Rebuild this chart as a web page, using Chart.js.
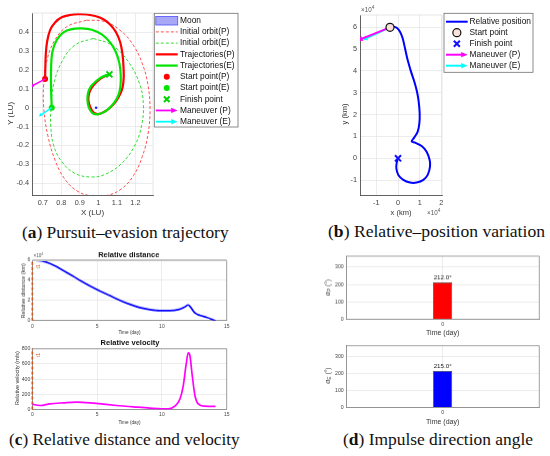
<!DOCTYPE html>
<html><head><meta charset="utf-8">
<script src="https://cdn.jsdelivr.net/npm/chart.js@4.4.1/dist/chart.umd.min.js"></script>
<style>
html,body{margin:0;padding:0;background:#fff;}
body{width:550px;height:456px;position:relative;overflow:hidden;}
canvas{position:absolute;}
.cap{position:absolute;font-family:"Liberation Serif","Times New Roman",serif;font-size:17px;line-height:17px;color:#111;white-space:nowrap;transform-origin:0 0;}
</style></head><body>
<canvas id="cA"></canvas>
<canvas id="cB"></canvas>
<canvas id="cC1"></canvas>
<canvas id="cC2"></canvas>
<canvas id="cD1"></canvas>
<canvas id="cD2"></canvas>
<div class="cap" id="capA" data-w="206.6" style="left:21.7px;top:223.8px">(<b>a</b>) Pursuit–evasion trajectory</div>
<div class="cap" id="capB" data-w="217" style="left:328px;top:223.3px">(<b>b</b>) Relative–position variation</div>
<div class="cap" id="capC" data-w="230.7" style="left:9.3px;top:430.8px">(<b>c</b>) Relative distance and velocity</div>
<div class="cap" id="capD" data-w="190" style="left:343px;top:430.8px">(<b>d</b>) Impulse direction angle</div>
<script>
// ================= DATA =================
// (a) Pursuit–evasion trajectory, LU
const moonX = [0.988], moonY = [0];
const orbitPX = [0.937,1.036,1.126,1.19,1.237,1.268,1.279,1.268,1.237,1.19,1.126,1.05,0.965,0.89,0.82,0.767,0.728,0.706,0.705,0.72,0.76,0.83,0.937];
const orbitPY = [0.465,0.457,0.404,0.33,0.235,0.12,-0.01,-0.14,-0.26,-0.36,-0.43,-0.465,-0.468,-0.445,-0.38,-0.28,-0.15,-0.01,0.12,0.24,0.35,0.43,0.465];
const orbitEX = [0.973,1.072,1.162,1.225,1.243,1.234,1.198,1.126,1.036,0.964,0.874,0.803,0.758,0.743,0.745,0.758,0.803,0.874,0.973];
const orbitEY = [0.368,0.333,0.244,0.12,0.014,-0.092,-0.198,-0.296,-0.354,-0.368,-0.349,-0.287,-0.198,-0.092,0,0.12,0.244,0.333,0.368];
const trajPX = [0.7126,0.7162,0.7234,0.7396,0.7665,0.8025,0.8475,0.8924,0.9374,0.9824,1.0273,1.0633,1.0939,1.1173,1.1299,1.1353,1.1371,1.1317,1.1173,1.0939,1.0633,1.0327,1.0004,0.9734,0.9554,0.9464,0.95,0.9644,0.9878,1.0147,1.0417,1.0597];
const trajPY = [0.152,0.2796,0.3504,0.4124,0.4530,0.4800,0.4925,0.4970,0.4950,0.4870,0.4700,0.4420,0.4035,0.3504,0.2885,0.2265,0.1646,0.1115,0.0708,0.0319,0,-0.0212,-0.0336,-0.0248,0.0053,0.0407,0.0761,0.1062,0.1345,0.1558,0.1699,0.177];
const trajEX = [0.7486,0.745,0.745,0.7522,0.7755,0.8115,0.8565,0.9104,0.9644,1.0183,1.0633,1.0939,1.1137,1.1209,1.1191,1.1083,1.0867,1.0579,1.0273,0.9968,0.968,0.9482,0.941,0.9446,0.959,0.9842,1.013,1.0399,1.0597];
const trajEY = [0,0.1027,0.2088,0.2973,0.3593,0.4,0.4177,0.4212,0.4142,0.3894,0.3469,0.2973,0.2354,0.1735,0.1115,0.0673,0.0283,-0.0035,-0.0248,-0.0354,-0.0283,0.0018,0.0407,0.0796,0.1115,0.1381,0.1593,0.1717,0.177];
const startPX = [0.7126], startPY = [0.152];
const startEX = [0.7486], startEY = [0];
const finishX = [1.0597], finishY = [0.177];
const manPX = [0.7126,0.643], manPY = [0.152,0.116];
const manEX = [0.7486,0.689], manEY = [0,-0.039];
const ticksAX = [0.7,0.8,0.9,1,1.1,1.2];
const ticksAY = [-0.4,-0.3,-0.2,-0.1,0,0.1,0.2,0.3,0.4];

// (b) Relative position, x10^4 km
const relX = [-0.369,-0.215,-0.06,0.092,0.215,0.323,0.446,0.6,0.754,0.877,0.954,1.0,0.985,0.908,0.754,0.63,0.785,1.09,1.32,1.46,1.477,1.37,1.17,0.86,0.55,0.246,0.015,-0.077,-0.06,0];
const relY = [6.0,6.03,5.98,5.8,5.5,5.04,4.5,3.97,3.51,3.05,2.6,2.06,1.6,1.22,0.96,0.78,0.72,0.565,0.305,-0.076,-0.38,-0.76,-0.99,-1.11,-1.11,-0.99,-0.76,-0.46,-0.2,0];
const relStartX = [-0.369], relStartY = [6.0];
const relFinishX = [0], relFinishY = [0];
const relManPX = [-0.369,-1.72], relManPY = [6.0,5.46];
const relManEX = [-0.369,-1.5], relManEY = [6.0,5.49];
const ticksBX = [-1,0,1,2];
const ticksBY = [-1,0,1,2,3,4,5,6];

// (c) Relative distance (x10^4 km) and velocity (m/s) vs time (day)
const distT = [0,0.72,1.36,2.13,2.9,3.68,4.45,5.22,6.0,6.76,7.53,8.3,9.07,9.85,10.6,11.26,11.77,12.03,12.2,12.55,12.93,13.44,14.14];
const distV = [6.0,5.93,5.67,5.17,4.6,4.0,3.45,2.95,2.48,2.02,1.62,1.29,1.09,0.99,0.99,1.09,1.36,1.56,1.36,0.76,0.53,0.33,0.0];
const velT = [0,0.2,0.6,1.36,2.4,3.4,4.45,5.48,6.5,7.8,9.07,9.97,10.5,11.0,11.4,11.65,11.86,12.03,12.16,12.34,12.55,12.8,13.32,14.14];
const velV = [75,62,53,75,88,97,88,70,53,35,18,9,9,44,141,316,580,747,712,448,185,75,44,40];
const eventT = [0];
const eventLabel = ['t1'];
const ticksCX = [0,5,10,15];
const ticksC1Y = [0,2,4,6];
const ticksC2Y = [0,200,400,600,800];

// (d) Impulse direction angle (deg)
const impulseTimes = ['0'];
const alphaP = [212.0];
const alphaE = [215.0];
const ticksDY = [0,100,200,300];

// ================= HELPERS =================
const SANS = '"Liberation Sans", Arial, Helvetica, sans-serif';
const zip = (xs, ys) => xs.map((x, i) => ({x: x, y: ys[i]}));
const fmt = v => String(Math.round(v * 1000) / 1000);

function arrowAngle(c) {
  const d = c.dataset.data, i = c.dataIndex;
  if (i === 0) return 0;
  const sx = c.chart.scales.x, sy = c.chart.scales.y;
  const dx = sx.getPixelForValue(d[i].x) - sx.getPixelForValue(d[i - 1].x);
  const dy = sy.getPixelForValue(d[i].y) - sy.getPixelForValue(d[i - 1].y);
  return Math.atan2(dx, -dy) * 180 / Math.PI;
}

function richDraw(ctx, t) {
  ctx.save();
  ctx.translate(t.x, t.y);
  if (t.rot) ctx.rotate(t.rot * Math.PI / 180);
  ctx.fillStyle = t.color || '#333';
  ctx.textBaseline = 'middle';
  const parts = t.parts || [{t: t.t}];
  const fonts = parts.map(p => ((p.bold !== undefined ? p.bold : t.bold) ? 'bold ' : '') + (p.size || t.size) + 'px ' + (p.family || SANS));
  let total = 0;
  parts.forEach((p, i) => { ctx.font = fonts[i]; total += ctx.measureText(p.t).width; });
  let cx = t.align === 'center' ? -total / 2 : (t.align === 'right' ? -total : 0);
  ctx.textAlign = 'left';
  parts.forEach((p, i) => { ctx.font = fonts[i]; ctx.fillText(p.t, cx, p.dy || 0); cx += ctx.measureText(p.t).width; });
  ctx.restore();
}

function drawSample(ctx, it, x0, x1, cy) {
  const xm = (x0 + x1) / 2;
  ctx.save();
  if (it.kind === 'patch') {
    ctx.fillStyle = it.fill; ctx.fillRect(x0, cy - 4.3, x1 - x0, 8.6);
    ctx.strokeStyle = it.stroke; ctx.lineWidth = 0.8; ctx.strokeRect(x0, cy - 4.3, x1 - x0, 8.6);
  } else if (it.kind === 'line') {
    ctx.strokeStyle = it.color; ctx.lineWidth = it.width; ctx.setLineDash(it.dash || []);
    ctx.beginPath(); ctx.moveTo(x0, cy); ctx.lineTo(x1, cy); ctx.stroke();
  } else if (it.kind === 'circle') {
    ctx.beginPath(); ctx.arc(xm, cy, it.r, 0, 2 * Math.PI);
    ctx.fillStyle = it.fill; ctx.fill();
    if (it.stroke) { ctx.strokeStyle = it.stroke; ctx.lineWidth = it.lw || 1; ctx.stroke(); }
  } else if (it.kind === 'cross') {
    const r = it.r;
    ctx.strokeStyle = it.color; ctx.lineWidth = it.lw;
    ctx.beginPath(); ctx.moveTo(xm - r, cy - r); ctx.lineTo(xm + r, cy + r);
    ctx.moveTo(xm - r, cy + r); ctx.lineTo(xm + r, cy - r); ctx.stroke();
  } else if (it.kind === 'arrow') {
    ctx.strokeStyle = it.color; ctx.lineWidth = it.width;
    ctx.beginPath(); ctx.moveTo(x0, cy); ctx.lineTo(x1 - 5, cy); ctx.stroke();
    ctx.fillStyle = it.color; ctx.beginPath();
    ctx.moveTo(x1, cy); ctx.lineTo(x1 - 6.5, cy - 2.6); ctx.lineTo(x1 - 6.5, cy + 2.6); ctx.closePath(); ctx.fill();
  }
  ctx.restore();
}

const decoPlugin = {
  id: 'deco',
  afterDatasetsDraw(chart, args, o) {
    const ctx = chart.ctx, a = chart.chartArea;
    ctx.save();
    if (o.box) {
      ctx.strokeStyle = o.box.color; ctx.lineWidth = o.box.width || 0.8;
      ctx.beginPath();
      if (o.box.sides.indexOf('top') >= 0) { ctx.moveTo(a.left, a.top); ctx.lineTo(a.right, a.top); }
      if (o.box.sides.indexOf('right') >= 0) { ctx.moveTo(a.right, a.top); ctx.lineTo(a.right, a.bottom); }
      ctx.stroke();
    }
    if (o.topLine) {
      ctx.strokeStyle = o.topLine.color; ctx.lineWidth = o.topLine.width;
      ctx.beginPath(); ctx.moveTo(a.left, a.top); ctx.lineTo(a.right, a.top); ctx.stroke();
    }
    if (o.barLabels) {
      chart.data.datasets.forEach((ds, di) => {
        chart.getDatasetMeta(di).data.forEach((el, i) => {
          richDraw(ctx, {t: ds.data[i].toFixed(1) + '°', x: el.x, y: el.y - 4.3, size: 6.2, align: 'center', color: '#222'});
        });
      });
    }
    if (o.eventLabels) {
      const sx = chart.scales.x;
      o.eventLabels.forEach(ev => {
        richDraw(ctx, {t: ev.t, x: sx.getPixelForValue(ev.x) + 6, y: a.top + ev.dy, rot: -90, size: 5.2, align: 'center', color: '#d95319'});
      });
    }
    ctx.restore();
  },
  afterDraw(chart, args, o) {
    const ctx = chart.ctx, ox = o.ox || 0, oy = o.oy || 0;
    (o.texts || []).forEach(t => richDraw(ctx, Object.assign({}, t, {x: t.x - ox, y: t.y - oy})));
    const L = o.legend;
    if (L) {
      ctx.save();
      ctx.fillStyle = '#fff';
      ctx.fillRect(L.x - ox, L.y - oy, L.w, L.h);
      ctx.strokeStyle = '#6e6e6e'; ctx.lineWidth = 0.8;
      ctx.strokeRect(L.x - ox, L.y - oy, L.w, L.h);
      L.items.forEach((it, i) => {
        const cy = L.firstY + i * L.rowH - oy;
        drawSample(ctx, it, L.s0 - ox, L.s1 - ox, cy);
        richDraw(ctx, {t: it.label, x: L.tx - ox, y: cy, size: L.size, color: '#111', align: 'left'});
      });
      ctx.restore();
    }
  }
};
Chart.register(decoPlugin);

function axis(min, max, ticks, size, pad, opts) {
  opts = opts || {};
  return Object.assign({
    type: 'linear', min: min, max: max,
    afterBuildTicks: s => { s.ticks = ticks.map(v => ({value: v})); },
    ticks: {autoSkip: false, maxRotation: 0, font: {family: SANS, size: size}, color: '#454545', padding: pad, callback: v => fmt(v)},
    grid: {color: opts.gridColor || '#e4e4e4', lineWidth: 0.7, drawTicks: false},
    border: {display: true, color: opts.borderColor || '#505050', width: 0.9}
  }, opts.extra || {});
}

function mk(id, box, area, cfg) {
  const cv = document.getElementById(id);
  cv.width = box.w; cv.height = box.h;
  cv.style.left = box.x + 'px'; cv.style.top = box.y + 'px';
  cv.style.width = box.w + 'px'; cv.style.height = box.h + 'px';
  const o = cfg.options;
  o.responsive = false; o.animation = false; o.events = [];
  o.layout = {padding: {left: 0, bottom: 0, top: area.t - box.y, right: box.x + box.w - area.r}};
  o.plugins = o.plugins || {};
  o.plugins.legend = {display: false};
  o.plugins.tooltip = {enabled: false};
  o.plugins.deco = Object.assign({ox: box.x, oy: box.y}, o.plugins.deco || {});
  o.scales.x.afterFit = s => { s.height = box.y + box.h - area.b; };
  o.scales.y.afterFit = s => { s.width = area.l - box.x; };
  return new Chart(cv, cfg);
}

const RED = '#ff0000', GREEN = '#00e400', MAG = '#ff00ff', CYAN = '#00ffff', BLUE = '#0000ff';

// ================= (a) =================
mk('cA', {x: 0, y: 0, w: 250, h: 218}, {l: 32, t: 13, r: 153, b: 195}, {
  type: 'scatter',
  data: {datasets: [
    {label: 'Moon', data: zip(moonX, moonY), pointStyle: 'circle', pointRadius: 1.3, pointBackgroundColor: '#2020ff', pointBorderWidth: 0, order: 10},
    {label: 'Initial orbit(P)', data: zip(orbitPX, orbitPY), showLine: true, borderColor: '#ff5050', borderWidth: 1, borderDash: [3, 2], pointRadius: 0, tension: 0.4, order: 9},
    {label: 'Initial orbit(E)', data: zip(orbitEX, orbitEY), showLine: true, borderColor: '#33dd33', borderWidth: 1, borderDash: [3, 2], pointRadius: 0, tension: 0.4, order: 8},
    {label: 'Trajectories(P)', data: zip(trajPX, trajPY), showLine: true, borderColor: RED, borderWidth: 2.2, pointRadius: 0, tension: 0.35, order: 7},
    {label: 'Trajectories(E)', data: zip(trajEX, trajEY), showLine: true, borderColor: GREEN, borderWidth: 2.2, pointRadius: 0, tension: 0.35, order: 6},
    {label: 'Start point(P)', data: zip(startPX, startPY), pointStyle: 'circle', pointRadius: 3, pointBackgroundColor: RED, pointBorderWidth: 0, order: 5},
    {label: 'Start point(E)', data: zip(startEX, startEY), pointStyle: 'circle', pointRadius: 3, pointBackgroundColor: GREEN, pointBorderWidth: 0, order: 4},
    {label: 'Finish point', data: zip(finishX, finishY), pointStyle: 'crossRot', pointRadius: 4.2, pointBorderColor: '#00d400', pointBorderWidth: 2, order: 3},
    {label: 'Maneuver (P)', data: zip(manPX, manPY), showLine: true, borderColor: MAG, borderWidth: 1.5, pointRadius: [0, 2.2], pointStyle: 'triangle', pointBackgroundColor: MAG, pointBorderWidth: 0, pointRotation: arrowAngle, order: 2},
    {label: 'Maneuver (E)', data: zip(manEX, manEY), showLine: true, borderColor: CYAN, borderWidth: 1.5, pointRadius: [0, 2.2], pointStyle: 'triangle', pointBackgroundColor: CYAN, pointBorderWidth: 0, pointRotation: arrowAngle, order: 1}
  ]},
  options: {
    scales: {
      x: axis(0.642, 1.295, ticksAX, 7.3, 3.5, {extra: {title: {display: true, text: 'X (LU)', font: {family: SANS, size: 8}, color: '#333', padding: 0}}}),
      y: axis(-0.4636, 0.503, ticksAY, 7.3, 3)
    },
    plugins: {deco: {
      box: {color: '#e0e0e0', sides: ['top', 'right']},
      texts: [{t: 'Y (LU)', x: 10.3, y: 113.5, rot: -90, size: 8, align: 'center', color: '#333'}],
      legend: {x: 154.3, y: 13.3, w: 83.7, h: 113.7, firstY: 20.7, rowH: 11.22, s0: 155.8, s1: 177.7, tx: 180, size: 8.4, items: [
        {label: 'Moon', kind: 'patch', fill: '#a8a8f6', stroke: '#5050ff'},
        {label: 'Initial orbit(P)', kind: 'line', color: '#ff5050', width: 1, dash: [3, 2]},
        {label: 'Initial orbit(E)', kind: 'line', color: '#33dd33', width: 1, dash: [3, 2]},
        {label: 'Trajectories(P)', kind: 'line', color: RED, width: 2.2},
        {label: 'Trajectories(E)', kind: 'line', color: GREEN, width: 2.2},
        {label: 'Start point(P)', kind: 'circle', fill: RED, r: 3},
        {label: 'Start point(E)', kind: 'circle', fill: GREEN, r: 3},
        {label: 'Finish point', kind: 'cross', color: '#00d400', r: 2.8, lw: 2},
        {label: 'Maneuver (P)', kind: 'arrow', color: MAG, width: 1.8},
        {label: 'Maneuver (E)', kind: 'arrow', color: CYAN, width: 1.8}
      ]}
    }}
  }
});

// ================= (b) =================
mk('cB', {x: 335, y: 0, w: 215, h: 217}, {l: 360, t: 15, r: 442, b: 195}, {
  type: 'scatter',
  data: {datasets: [
    {label: 'Relative position', data: zip(relX, relY), showLine: true, borderColor: BLUE, borderWidth: 2, pointRadius: 0, tension: 0.3, order: 5},
    {label: 'Start point', data: zip(relStartX, relStartY), pointStyle: 'circle', pointRadius: 4, pointBackgroundColor: '#fbe3da', pointBorderColor: '#111', pointBorderWidth: 1.2, order: 1},
    {label: 'Finish point', data: zip(relFinishX, relFinishY), pointStyle: 'crossRot', pointRadius: 4.3, pointBorderColor: '#1010ff', pointBorderWidth: 2, order: 4},
    {label: 'Maneuver (P)', data: zip(relManPX, relManPY), showLine: true, borderColor: MAG, borderWidth: 2, pointRadius: [0, 3.2], pointStyle: 'triangle', pointBackgroundColor: MAG, pointBorderWidth: 0, pointRotation: arrowAngle, order: 2},
    {label: 'Maneuver (E)', data: zip(relManEX, relManEY), showLine: true, borderColor: CYAN, borderWidth: 2, pointRadius: [0, 3.2], pointStyle: 'triangle', pointBackgroundColor: CYAN, pointBorderWidth: 0, pointRotation: arrowAngle, order: 3}
  ]},
  options: {
    scales: {
      x: axis(-1.754, 2.03, ticksBX, 7.3, 3.5, {extra: {title: {display: true, text: 'x (km)', font: {family: SANS, size: 7.5}, color: '#333', padding: 0}}}),
      y: axis(-1.68, 6.565, ticksBY, 7.3, 3)
    },
    plugins: {deco: {
      box: {color: '#e0e0e0', sides: ['top', 'right']},
      texts: [
        {t: 'y (km)', x: 344.5, y: 114, rot: -90, size: 7.5, align: 'center', color: '#333'},
        {parts: [{t: '×10', size: 6.3}, {t: '4', size: 4.6, dy: -2.6}], x: 361, y: 10.3, align: 'left', color: '#555'},
        {parts: [{t: '×10', size: 6.3}, {t: '4', size: 4.6, dy: -2.6}], x: 427, y: 213, align: 'left', color: '#555'}
      ],
      legend: {x: 444, y: 13.3, w: 89, h: 59, firstY: 21.7, rowH: 11, s0: 446, s1: 467.7, tx: 469.5, size: 8.4, items: [
        {label: 'Relative position', kind: 'line', color: BLUE, width: 2},
        {label: 'Start point', kind: 'circle', fill: '#fbe3da', stroke: '#111', lw: 1.2, r: 4},
        {label: 'Finish point', kind: 'cross', color: '#1010ff', r: 3, lw: 2},
        {label: 'Maneuver (P)', kind: 'arrow', color: MAG, width: 2},
        {label: 'Maneuver (E)', kind: 'arrow', color: CYAN, width: 2}
      ]}
    }}
  }
});

// ================= (c) =================
const C1Y = [0, 6], C2Y = [0, 800];
function eventDataset(yr) {
  return {label: 'event', data: [{x: eventT[0], y: yr[0]}, {x: eventT[0], y: yr[1]}], showLine: true, borderColor: '#d95319', borderWidth: 1.6, borderDash: [3, 2], pointRadius: 0, clip: 4, order: 2};
}
const cTitle = txt => ({display: true, text: txt, font: {family: SANS, size: 4.7}, color: '#333', padding: 0});
mk('cC1', {x: 0, y: 245, w: 245, h: 335.5 - 245}, {l: 32.3, t: 260, r: 226.7, b: 320.3}, {
  type: 'scatter',
  data: {datasets: [
    {label: 'Relative distance', data: zip(distT, distV), showLine: true, borderColor: BLUE, borderWidth: 1.7, pointRadius: 0, cubicInterpolationMode: 'monotone', order: 1},
    eventDataset(C1Y)
  ]},
  options: {
    scales: {
      x: axis(0, 15, ticksCX, 5, 2.6, {borderColor: '#8a8a8a', extra: {title: cTitle('Time (day)')}}),
      y: axis(C1Y[0], C1Y[1], ticksC1Y, 5.2, 2, {borderColor: '#8a8a8a'})
    },
    plugins: {deco: {
      box: {color: '#8a8a8a', sides: ['right']},
      topLine: {color: '#c4c4c4', width: 2},
      eventLabels: [{x: eventT[0], t: eventLabel[0], dy: 6.3}],
      texts: [
        {t: 'Relative distance', x: 128.8, y: 255, size: 7.5, bold: true, align: 'center', color: '#111'},
        {t: 'Relative distance (km)', x: 23.8, y: 290.3, rot: -90, size: 5.5, align: 'center', color: '#333'},
        {parts: [{t: '×10', size: 4.6}, {t: '4', size: 3.4, dy: -1.8}], x: 33.5, y: 255.8, align: 'left', color: '#555'}
      ]
    }}
  }
});
mk('cC2', {x: 0, y: 335.5, w: 245, h: 425.5 - 335.5}, {l: 32.3, t: 348.3, r: 226.7, b: 409}, {
  type: 'scatter',
  data: {datasets: [
    {label: 'Relative velocity', data: zip(velT, velV), showLine: true, borderColor: MAG, borderWidth: 1.7, pointRadius: 0, cubicInterpolationMode: 'monotone', order: 1},
    eventDataset(C2Y)
  ]},
  options: {
    scales: {
      x: axis(0, 15, ticksCX, 5, 2.6, {borderColor: '#8a8a8a', extra: {title: cTitle('Time (day)')}}),
      y: axis(C2Y[0], C2Y[1], ticksC2Y, 5.2, 2, {borderColor: '#8a8a8a'})
    },
    plugins: {deco: {
      box: {color: '#8a8a8a', sides: ['top', 'right']},
      eventLabels: [{x: eventT[0], t: eventLabel[0], dy: 6.3}],
      texts: [
        {t: 'Relative velocity', x: 130, y: 342.6, size: 7.5, bold: true, align: 'center', color: '#111'},
        {t: 'Relative velocity (m/s)', x: 17.5, y: 377.5, rot: -90, size: 5.5, align: 'center', color: '#333'}
      ]
    }}
  }
});

// ================= (d) =================
function barChart(id, box, area, values, color, sub, labelY) {
  return mk(id, box, area, {
    type: 'bar',
    data: {labels: impulseTimes, datasets: [{label: 'alpha' + sub, data: values, backgroundColor: color, borderColor: '#3a3a3a', borderWidth: 0.8, barPercentage: 0.099, categoryPercentage: 1}]},
    options: {
      scales: {
        x: {type: 'category', offset: true,
            ticks: {font: {family: SANS, size: 5.2}, color: '#454545', padding: 2.2},
            grid: {offset: false, color: '#e4e4e4', lineWidth: 0.7, drawTicks: false},
            border: {display: true, color: '#8a8a8a', width: 0.9},
            title: {display: true, text: 'Time (day)', font: {family: SANS, size: 7}, color: '#333', padding: 0}},
        y: axis(0, 364, ticksDY, 5.2, 2.3, {borderColor: '#8a8a8a'})
      },
      plugins: {deco: {
        box: {color: '#8a8a8a', sides: ['top', 'right']},
        barLabels: true,
        texts: [{parts: [{t: 'α', size: 6.8}, {t: sub, size: 4.8, dy: 1.8}, {t: ' (°)', size: 6.8}], x: 327.8, y: labelY, rot: -90, align: 'center', color: '#333'}]
      }}
    }
  });
}
barChart('cD1', {x: 318, y: 250, w: 232, h: 336.6 - 250}, {l: 346, t: 256, r: 539.3, b: 319}, alphaP, RED, 'P', 287);
barChart('cD2', {x: 318, y: 338, w: 232, h: 426 - 338}, {l: 346, t: 345.7, r: 539.3, b: 407.3}, alphaE, BLUE, 'E', 375.5);

// ================= captions =================
document.querySelectorAll('.cap').forEach(el => {
  const target = parseFloat(el.dataset.w);
  const w = el.getBoundingClientRect().width;
  if (w > 0) el.style.transform = 'scaleX(' + (target / w) + ')';
});
</script>
</body></html>
